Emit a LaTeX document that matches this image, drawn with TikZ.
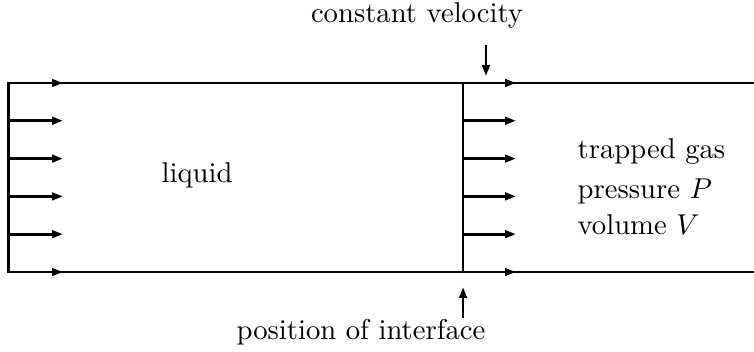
\documentclass[tikz,border=0pt]{standalone}
\usepackage{tikz}
\usetikzlibrary{arrows.meta}
\tikzset{
  wall/.style={line width=1pt},
  flow/.style={line width=1pt, -{Triangle[length=3.8pt,width=2.6pt]}},
  lbl/.style={inner sep=0pt, anchor=base}}

\begin{document}
\begin{tikzpicture}
  \useasboundingbox (0,0) rectangle (9.241,4.302);
  % pipe and interface
  \coordinate (tl) at (0.1,3.285);
  \coordinate (bl) at (0.1,0.968);
  \coordinate (tr) at (9.241,3.285);
  \coordinate (br) at (9.241,0.968);
  \coordinate (it) at (5.675,3.285);
  \coordinate (ib) at (5.675,0.968);
  \draw[wall] (tr) -- (tl) -- (bl) -- (br);
  \draw[wall] (it) -- (ib);
  % velocity profile, liquid side and gas side
  \foreach \i/\y in {0/0.968,1/1.432,2/1.895,3/2.358,4/2.822,5/3.285}{
    \coordinate (l\i) at (0.1,\y);
    \coordinate (lt\i) at (0.772,\y);
    \coordinate (g\i) at (5.675,\y);
    \coordinate (gt\i) at (6.324,\y);
    \draw[flow] (l\i) -- (lt\i);
    \draw[flow] (g\i) -- (gt\i);}
  % labels
  \node[lbl] (velo) at (5.111,4.032) {constant velocity};
  \coordinate (velotail) at (5.956,3.75);
  \coordinate (velotip) at (5.956,3.37);
  \draw[flow] (velotail) -- (velotip);
  \node[lbl] (pos) at (4.424,0.147) {position of interface};
  \coordinate (postail) at (5.675,0.404);
  \coordinate (postip) at (5.675,0.784);
  \draw[flow] (postail) -- (postip);
  \node[lbl, anchor=base west] (liq) at (1.973,2.071) {liquid};
  \node[lbl, anchor=base west] (gas) at (7.072,2.365) {trapped gas};
  \node[lbl, anchor=base west] (pres) at (7.072,1.875) {pressure $P$};
  \node[lbl, anchor=base west] (vol) at (7.072,1.422) {volume $V$};
\end{tikzpicture}
\end{document}
